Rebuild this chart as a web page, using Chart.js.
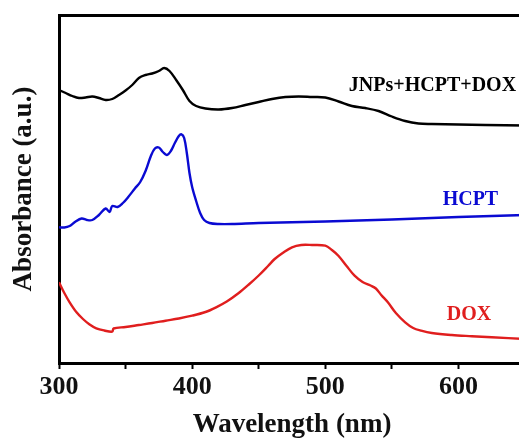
<!DOCTYPE html>
<html>
<head>
<meta charset="utf-8">
<script src="https://cdn.jsdelivr.net/npm/chart.js@4/dist/chart.umd.min.js"></script>
<style>
  html, body { margin: 0; padding: 0; background: #fff; overflow: hidden; }
  #wrap { width: 528px; height: 439px; position: relative; }
</style>
</head>
<body>
<div id="wrap"><canvas id="c"></canvas></div>
<script>
// ---- data (wavelength in nm, absorbance in arbitrary offset units) ----
const seriesNames = ['JNPs+HCPT+DOX', 'HCPT', 'DOX'];

const jnpWl = [300,305,310,315,320,325,330,335,340,345,350,355,360,365,370,375,379,383,388,393,398,403,410,420,430,440,450,460,470,480,490,500,510,520,530,540,550,560,570,580,600,620,650];
const jnpAbs = [273,270,267,265,265.5,266.5,265,263,264,268,272.5,278,285,288,289.5,292,295,292,283,273,262,257,254.5,253.5,255,258,261,264,266,266.5,266,265.5,261.5,257,255,252,246.5,242,239.5,239,238.5,238,237.5];

const hcptWl = [300,304,308,312,317,321,325,330,335,338,340,344,348,352,357,361,365,369,372,375,378,381,384,387,390,392,394,396,398,400,403,406,409,413,420,430,450,500,550,600,650];
const hcptAbs = [135.7,135.5,137,141,144.5,143,143,148,154.5,151,157,156,160,166,174.5,181,192,207,214.5,215.5,211,208,212,220,227,228.7,225,210,190,176,162,150,143,140,139,139,140,141.5,143.5,146,148];

const doxWl = [300,304,308,313,318,323,328,334,340,341,350,360,370,380,390,400,410,418,426,435,443,450,457,462,468,475,482,490,500,505,510,516,522,528,534,538,542,547,553,560,566,572,580,595,610,625,650];
const doxAbs = [80.7,70,60.7,51,44,38.5,34.7,32.5,31.3,34.5,36,38,40,42.3,44.5,47.3,51,55.7,61.5,70,79,87.5,97,104,110,115.7,118,118,117.3,113,107,97,87.3,81,77.5,74.5,68,60.7,50,40.7,35,32.3,30,28,26.8,25.7,24];

const xTickValues = [300, 400, 500, 600];
const xMin = 300, xMax = 650;

const lineColors = ['#000000', '#0a0ad2', '#e01e1e'];

function pts(xs, ys) { return xs.map((x, i) => ({ x: x, y: ys[i] })); }

const serif = '"Liberation Serif", "Times New Roman", serif';

const annotPlugin = {
  id: 'annot',
  afterDatasetsDraw(chart) {
    const ctx = chart.ctx;
    const xs = chart.scales.x, ys = chart.scales.y;
    const anchors = [
      { wl: 643.3, v: 277, align: 'right' },
      { wl: 609, v: 163.5, align: 'center' },
      { wl: 608, v: 48, align: 'center' }
    ];
    ctx.save();
    ctx.font = 'bold 20px ' + serif;
    ctx.textBaseline = 'middle';
    seriesNames.forEach((name, i) => {
      const a = anchors[i];
      ctx.fillStyle = lineColors[i];
      ctx.textAlign = a.align;
      ctx.fillText(name, xs.getPixelForValue(a.wl), ys.getPixelForValue(a.v));
    });
    ctx.restore();
  }
};

new Chart(document.getElementById('c'), {
  type: 'line',
  data: {
    datasets: [
      { label: seriesNames[0], data: pts(jnpWl, jnpAbs), borderColor: lineColors[0] },
      { label: seriesNames[1], data: pts(hcptWl, hcptAbs), borderColor: lineColors[1] },
      { label: seriesNames[2], data: pts(doxWl, doxAbs), borderColor: lineColors[2] }
    ].map(d => Object.assign(d, {
      borderWidth: 2.4, pointRadius: 0, fill: false, tension: 0.35
    }))
  },
  options: {
    responsive: true,
    maintainAspectRatio: false,
    animation: false,
    layout: { padding: { left: 0, right: 2, top: 0, bottom: 0 } },
    plugins: { legend: { display: false }, tooltip: { enabled: false } },
    scales: {
      x: {
        type: 'linear', position: 'bottom', min: xMin, max: xMax,
        afterFit: s => { s.height = 76; },
        afterBuildTicks: s => {
          const t = [];
          for (let v = xMin; v <= xMax; v += 50) t.push({ value: v });
          s.ticks = t;
        },
        border: { display: true, width: 3, color: '#000' },
        grid: { display: true, drawOnChartArea: false, drawTicks: true, tickLength: 6, tickWidth: 2, tickColor: '#000' },
        ticks: {
          padding: 3, color: '#111', maxRotation: 0, autoSkip: false,
          font: { family: serif, size: 26, weight: 'bold' },
          callback: v => (xTickValues.includes(v) ? String(v) : '')
        },
        title: {
          display: true, text: 'Wavelength (nm)', color: '#111',
          font: { family: serif, size: 27, weight: 'bold', lineHeight: 1 },
          padding: { top: 0, bottom: 0 }
        }
      },
      xt: {
        type: 'linear', position: 'top', min: xMin, max: xMax,
        afterFit: s => { s.height = 15; },
        border: { display: true, width: 3, color: '#000' },
        grid: { display: false },
        ticks: { display: false }
      },
      y: {
        type: 'linear', position: 'left', min: 0, max: 348,
        afterFit: s => { s.width = 59; },
        border: { display: true, width: 3, color: '#000' },
        grid: { display: false },
        ticks: { display: false },
        title: {
          display: true, text: 'Absorbance (a.u.)', color: '#111',
          font: { family: serif, size: 27, weight: 'bold', lineHeight: 1 },
          padding: { top: 11, bottom: 0 }
        }
      }
    }
  },
  plugins: [annotPlugin]
});
</script>
</body>
</html>
